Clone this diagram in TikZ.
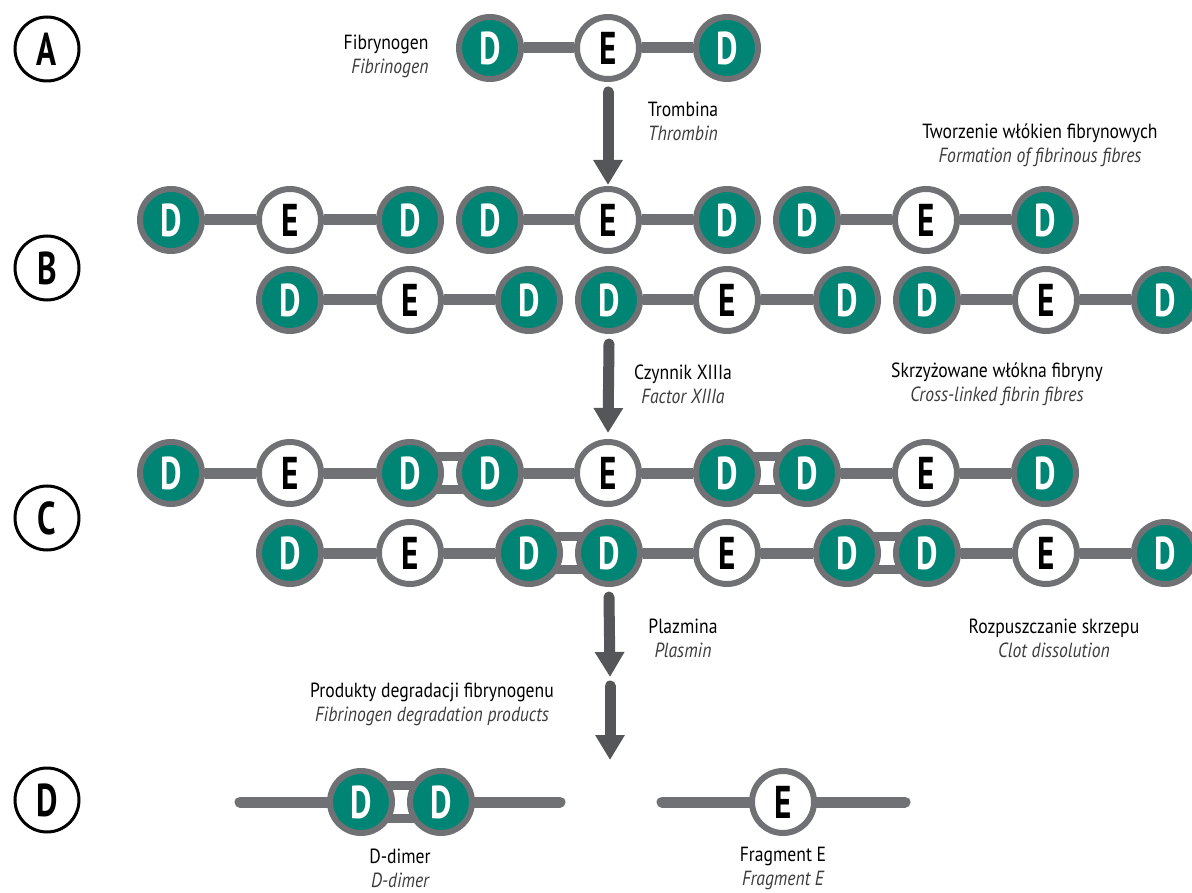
\documentclass[tikz,border=0pt]{standalone}
\usepackage{fontspec}
\setmainfont{PT Sans}[FakeStretch=0.86]
\newfontfamily\bigletter{PT Sans}[FakeStretch=0.72]
\usetikzlibrary{arrows.meta,backgrounds}
\definecolor{teal}{RGB}{0,133,117}
\definecolor{ring}{RGB}{112,113,116}
\definecolor{arr}{RGB}{85,86,89}
\definecolor{engl}{RGB}{60,60,60}
\tikzset{
  mol/.style={circle,draw=ring,line width=6pt,minimum size=62pt,inner sep=0pt,
    font=\bigletter\bfseries\fontsize{46}{46}\selectfont},
  dnode/.style={mol,fill=teal,text=white},
  enode/.style={mol,fill=white,text=black},
  chain/.style={draw=ring,line width=11pt},
  rchain/.style={draw=ring,line width=11pt,line cap=round},
  bigarrow/.style={draw=arr,line width=11pt,line cap=round,-{Triangle[width=28pt,length=25pt]}},
  letterc/.style={circle,draw=black,line width=3pt,minimum size=64pt,inner sep=0pt,
    font=\bigletter\bfseries\fontsize{46}{46}\selectfont},
  lbl/.style={align=center,font=\fontsize{20.5}{24}\selectfont},
}
\newcommand{\en}[1]{{\itshape\color{engl}#1}}
\begin{document}
\begin{tikzpicture}[x=1pt,y=-1pt]
\useasboundingbox (0,0) rectangle (1192,893);
% letter circles
\node[letterc] (LA) at (47,49) {A};
\node[letterc] (LB) at (47,268) {B};
\node[letterc] (LC) at (47,518) {C};
\node[letterc] (LD) at (47,800) {D};
% Row A
\node[dnode] (a1) at (490,48) {D};
\node[enode] (a2) at (608,48) {E};
\node[dnode] (a3) at (727,48) {D};
% Row B top / C top
\foreach \r/\y in {b/220,c/473}{
  \node[dnode] (\r11) at (171,\y) {D};
  \node[enode] (\r12) at (290,\y) {E};
  \node[dnode] (\r13) at (410,\y) {D};
  \node[dnode] (\r21) at (490,\y) {D};
  \node[enode] (\r22) at (608,\y) {E};
  \node[dnode] (\r23) at (727,\y) {D};
  \node[dnode] (\r31) at (807,\y) {D};
  \node[enode] (\r32) at (926,\y) {E};
  \node[dnode] (\r33) at (1045,\y) {D};
}
% Row B bottom / C bottom
\foreach \r/\y in {p/300,q/553}{
  \node[dnode] (\r11) at (290,\y) {D};
  \node[enode] (\r12) at (410,\y) {E};
  \node[dnode] (\r13) at (529,\y) {D};
  \node[dnode] (\r21) at (609,\y) {D};
  \node[enode] (\r22) at (727,\y) {E};
  \node[dnode] (\r23) at (847,\y) {D};
  \node[dnode] (\r31) at (927,\y) {D};
  \node[enode] (\r32) at (1046,\y) {E};
  \node[dnode] (\r33) at (1165,\y) {D};
}
% Row D
\node[dnode] (dd1) at (361,802) {D};
\node[dnode] (dd2) at (441,802) {D};
\node[enode] (fe) at (783,802) {E};
\coordinate (dl) at (240,802);
\coordinate (dr) at (560,802);
\coordinate (fl) at (662,802);
\coordinate (fr) at (905,802);
\begin{scope}[on background layer]
  \draw[chain] (a1) -- (a2) -- (a3);
  \foreach \r in {b,c,p,q}{
    \foreach \m in {1,2,3}{
      \draw[chain] (\r\m1) -- (\r\m2) -- (\r\m3);
    }
  }
  % cross links
  \foreach \u/\v in {c13/c21,c23/c31,q13/q21,q23/q31,dd1/dd2}{
    \fill[ring] ([yshift=21pt]\u.center) rectangle ([yshift=-21pt]\v.center);
    \fill[white] ([yshift=12pt]\u.center) rectangle ([yshift=-12pt]\v.center);
  }
  \draw[rchain] (dl) -- (dd1);
  \draw[rchain] (dd2) -- (dr);
  \draw[rchain] (fl) -- (fe) -- (fr);
\end{scope}
% arrows
\coordinate (ar3e) at (610,677);
\coordinate (ar4s) at (610,686);
\coordinate (ar4e) at (610,760);
\draw[bigarrow] ([yshift=-10pt]a2.south) -- ([yshift=1pt]b22.north);
\draw[bigarrow] ([yshift=-10pt]p21.south) -- ([yshift=6pt]c22.north);
\draw[bigarrow] ([yshift=-10pt]q21.south) -- (ar3e);
\draw[bigarrow] (ar4s) -- (ar4e);
% labels
\node[lbl,align=right,anchor=east] (t1) at (432,56) {Fibrynogen\\\en{Fibrinogen}};
\node[lbl] (t2) at (683,121) {Trombina\\\en{Thrombin}};
\node[lbl] (t3) at (1040,145) {Tworzenie włókien fibrynowych\\\en{Formation of fibrinous fibres}};
\node[lbl] (t4) at (683,384) {Czynnik XIIIa\\\en{Factor XIIIa}};
\node[lbl] (t5) at (997,384) {Skrzyżowane włókna fibryny\\\en{Cross-linked fibrin fibres}};
\node[lbl] (t6) at (683,638) {Plazmina\\\en{Plasmin}};
\node[lbl] (t7) at (1054,638) {Rozpuszczanie skrzepu\\\en{Clot dissolution}};
\node[lbl] (t8) at (432,704) {Produkty degradacji fibrynogenu\\\en{Fibrinogen degradation products}};
\node[lbl] (t9) at (400,868) {D-dimer\\\en{D-dimer}};
\node[lbl] (t10) at (783,868) {Fragment E\\\en{Fragment E}};
\end{tikzpicture}
\end{document}
